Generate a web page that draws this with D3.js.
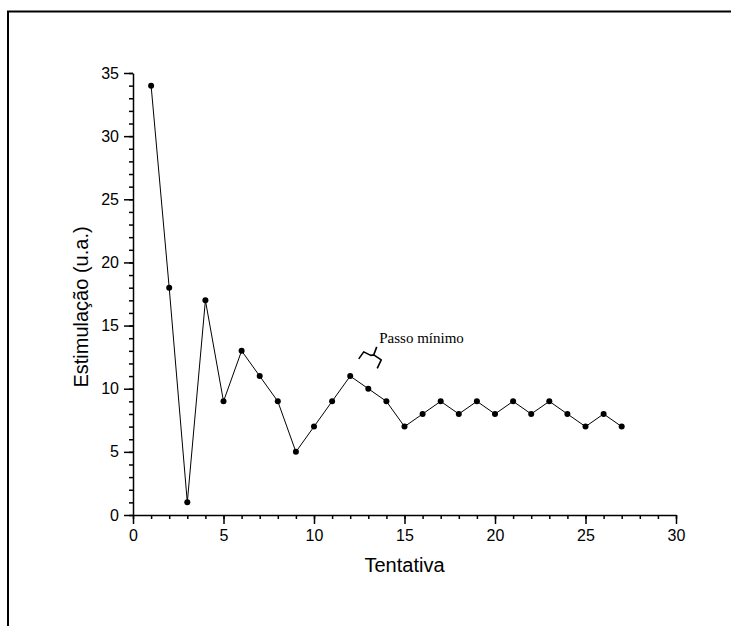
<!DOCTYPE html>
<html>
<head>
<meta charset="utf-8">
<script src="https://cdn.jsdelivr.net/npm/d3@7"></script>
<style>
  html, body { margin: 0; padding: 0; background: #fff; }
  svg { display: block; }
  .tick text { font-family: "Liberation Sans", Arial, sans-serif; font-size: 16px; fill: #000; }
</style>
</head>
<body>
<svg id="chart" width="731" height="626"></svg>
<script>
// Tentativa (trial number) and stimulation level per trial
const trials = d3.range(1, 28);
const stimulation = [34, 18, 1, 17, 9, 13, 11, 9, 5, 7, 9, 11, 10, 9, 7, 8, 9, 8, 9, 8, 9, 8, 9, 8, 7, 8, 7];
const xTicks = [0, 5, 10, 15, 20, 25, 30];
const yTicks = [0, 5, 10, 15, 20, 25, 30, 35];
const xTitle = "Tentativa";
const yTitle = "Estimulação (u.a.)";
const noteText = "Passo mínimo";

const svg = d3.select("#chart");
const W = 731, H = 626;

// Outer frame: top and left edges only
svg.append("path")
  .attr("d", `M8,626 V11.5 H${W}`)
  .attr("fill", "none")
  .attr("stroke", "#000")
  .attr("stroke-width", 2);

const x = d3.scaleLinear().domain([0, 30]).range([133, 676]);
const y = d3.scaleLinear().domain([0, 35]).range([515, 73]);

// Minor ticks every unit
const xAxisMinor = d3.axisBottom(x).tickValues(d3.range(0, 31)).tickSize(4).tickFormat("");
const yAxisMinor = d3.axisLeft(y).tickValues(d3.range(0, 36)).tickSize(4).tickFormat("");
svg.append("g").attr("transform", `translate(0,${y(0)})`).call(xAxisMinor)
  .call(g => g.select(".domain").remove());
svg.append("g").attr("transform", `translate(${x(0)},0)`).call(yAxisMinor)
  .call(g => g.select(".domain").remove());

// Major ticks with labels
const xAxis = d3.axisBottom(x).tickValues(xTicks).tickSize(9).tickSizeOuter(0).tickPadding(6);
const yAxis = d3.axisLeft(y).tickValues(yTicks).tickSize(9).tickSizeOuter(0).tickPadding(5);
const gx = svg.append("g").attr("transform", `translate(0,${y(0)})`).call(xAxis);
const gy = svg.append("g").attr("transform", `translate(${x(0)},0)`).call(yAxis);
[gx, gy].forEach(g => {
  g.select(".domain").attr("stroke", "#000").attr("stroke-width", 1.5);
});
svg.selectAll(".tick line").attr("stroke", "#000").attr("stroke-width", 1.5);

// Axis titles
svg.append("text")
  .attr("x", (x(0) + x(30)) / 2)
  .attr("y", 572)
  .attr("text-anchor", "middle")
  .attr("font-family", "Liberation Sans, Arial, sans-serif")
  .attr("font-size", 20)
  .text(xTitle);

svg.append("text")
  .attr("transform", `translate(88,${307}) rotate(-90)`)
  .attr("text-anchor", "middle")
  .attr("font-family", "Liberation Sans, Arial, sans-serif")
  .attr("font-size", 20)
  .text(yTitle);

// Data line and markers
const pts = trials.map((t, i) => [t, stimulation[i]]);
svg.append("path")
  .datum(pts)
  .attr("fill", "none")
  .attr("stroke", "#000")
  .attr("stroke-width", 1)
  .attr("d", d3.line().x(d => x(d[0])).y(d => y(d[1])));

svg.append("g").selectAll("circle")
  .data(pts)
  .join("circle")
  .attr("cx", d => x(d[0]))
  .attr("cy", d => y(d[1]))
  .attr("r", 3)
  .attr("fill", "#000");

// Tilted brace marking the minimum step, between trials 12 and 13
const bx = x(13.3), by = y(12.6);
svg.append("path")
  .attr("d",
    `M${bx - 15},${by + 3} L${bx - 10},${by - 4} L${bx - 3},${by - 0.5} L${bx},${by - 1}` +
    ` L${bx + 3},${by - 9} M${bx},${by - 1} L${bx + 7.5},${by + 4} L${bx + 3.5},${by + 12.5}`)
  .attr("fill", "none")
  .attr("stroke", "#000")
  .attr("stroke-width", 1.6)
  .attr("stroke-linejoin", "round");

svg.append("text")
  .attr("x", bx + 5.5)
  .attr("y", 343)
  .attr("font-family", "Liberation Serif, Times New Roman, serif")
  .attr("font-size", 15)
  .text(noteText);
</script>
</body>
</html>
